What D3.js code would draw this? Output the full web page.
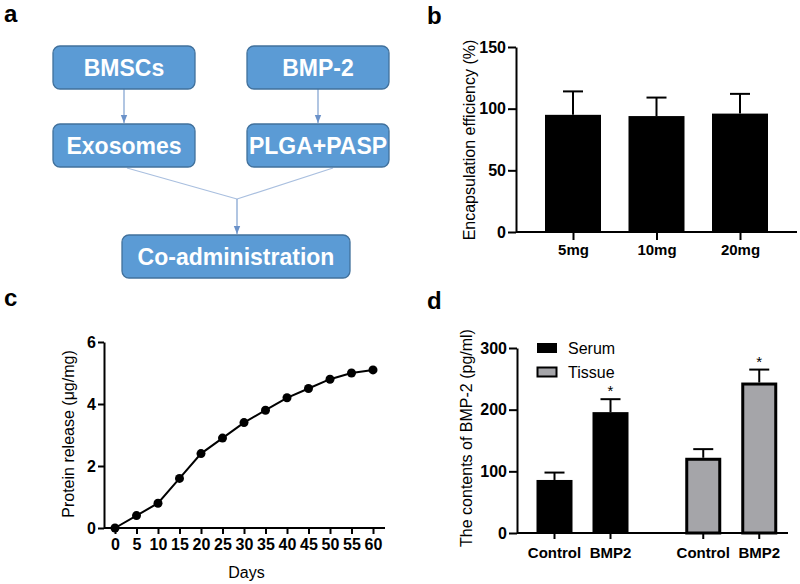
<!DOCTYPE html>
<html>
<head>
<meta charset="utf-8">
<script src="https://cdn.jsdelivr.net/npm/d3@7"></script>
<style>
  body { margin: 0; background: #fff; }
  svg { font-family: "Liberation Sans", Arial, sans-serif; display: block; }
</style>
</head>
<body>
<svg id="fig" width="800" height="584"></svg>
<script>
// Panel a - flow chart labels
const flowTop = ["BMSCs", "BMP-2"];
const flowMid = ["Exosomes", "PLGA+PASP"];
const flowEnd = "Co-administration";

// Panel b - encapsulation efficiency
const encCats = ["5mg", "10mg", "20mg"];
const encMean = [95, 94, 96];
const encSD = [19, 15, 16];
const encTicks = [0, 50, 100, 150];

// Panel c - cumulative protein release
const releaseDays = [0, 5, 10, 15, 20, 25, 30, 35, 40, 45, 50, 55, 60];
const releaseVals = [0, 0.4, 0.8, 1.6, 2.4, 2.9, 3.4, 3.8, 4.2, 4.5, 4.8, 5.0, 5.1];
const releaseYTicks = [0, 2, 4, 6];

// Panel d - BMP-2 contents
const bmpGroups = ["Serum", "Tissue"];
const bmpCats = ["Control", "BMP2"];
const bmpSerum = [86, 196];
const bmpSerumSD = [12, 21];
const bmpTissue = [122, 244];
const bmpTissueSD = [14, 21];
const bmpSig = [false, true];
const bmpTicks = [0, 100, 200, 300];

const svg = d3.select("#fig");
const black = "#000";
const intFmt = d3.format("d");

// panel letters
const letters = [["a", 4, 22], ["b", 427, 24], ["c", 4, 306], ["d", 427, 309]];
svg.selectAll("text.letter")
  .data(letters)
  .enter()
  .append("text")
  .attr("class", "letter")
  .attr("x", (d) => d[1])
  .attr("y", (d) => d[2])
  .attr("font-size", "24px")
  .attr("font-weight", "bold")
  .attr("fill", black)
  .text((d) => d[0]);

// ---------- panel a ----------
function drawFlow() {
  const g = svg.append("g");
  const lineCol = "#7d9fcf";

  const defs = svg.append("defs");
  defs.append("marker")
    .attr("id", "arr")
    .attr("viewBox", "0 0 10 10")
    .attr("refX", 10)
    .attr("refY", 5)
    .attr("markerWidth", 7)
    .attr("markerHeight", 7)
    .attr("orient", "auto")
    .append("path")
    .attr("d", "M0,1 L10,5 L0,9 Z")
    .attr("fill", "#6b92c9");

  const colX = d3.scalePoint().domain([0, 1]).range([124, 318]);
  const boxW = 142, boxH = 43;

  const boxes = [];
  flowTop.forEach((t, i) => boxes.push({ t, cx: colX(i), y: 46, w: boxW }));
  flowMid.forEach((t, i) => boxes.push({ t, cx: colX(i), y: 124, w: boxW }));
  boxes.push({ t: flowEnd, cx: 236, y: 235, w: 228 });

  // connectors
  flowTop.forEach((t, i) => {
    g.append("line")
      .attr("x1", colX(i)).attr("y1", 89)
      .attr("x2", colX(i)).attr("y2", 123)
      .attr("stroke", lineCol).attr("stroke-width", 1.2)
      .attr("marker-end", "url(#arr)");
  });
  const joinX = 237, joinY = 199;
  [127, 333].forEach((x) => {
    g.append("line")
      .attr("x1", x).attr("y1", 168)
      .attr("x2", joinX).attr("y2", joinY)
      .attr("stroke", "#a9bfdf").attr("stroke-width", 1.2);
  });
  g.append("line")
    .attr("x1", joinX).attr("y1", joinY)
    .attr("x2", joinX).attr("y2", 234)
    .attr("stroke", lineCol).attr("stroke-width", 1.2)
    .attr("marker-end", "url(#arr)");

  const bx = g.selectAll("g.box")
    .data(boxes)
    .enter()
    .append("g")
    .attr("class", "box");
  bx.append("rect")
    .attr("x", (d) => d.cx - d.w / 2)
    .attr("y", (d) => d.y)
    .attr("width", (d) => d.w)
    .attr("height", boxH)
    .attr("rx", 7)
    .attr("fill", "#5b9bd5")
    .attr("stroke", "#41719c")
    .attr("stroke-width", 1.3);
  bx.append("text")
    .attr("x", (d) => d.cx)
    .attr("y", (d) => d.y + boxH / 2 + 8)
    .attr("text-anchor", "middle")
    .attr("fill", "#fff")
    .attr("font-size", "23px")
    .attr("font-weight", "bold")
    .text((d) => d.t);
}

// shared axis styling
function styleAxis(sel, fs) {
  sel.selectAll("path, line").attr("stroke", black).attr("stroke-width", 2);
  sel.selectAll("text")
    .attr("fill", black)
    .attr("font-size", fs)
    .attr("font-weight", "bold")
    .attr("font-family", "Liberation Sans, Arial, sans-serif");
}

function yLabel(text, x, y) {
  svg.append("text")
    .attr("transform", `translate(${x},${y}) rotate(-90)`)
    .attr("text-anchor", "middle")
    .attr("font-size", "16px")
    .attr("fill", black)
    .text(text);
}

// ---------- panel b ----------
function drawEncapsulation() {
  const y = d3.scaleLinear().domain([0, 150]).range([232, 47]);
  const x = d3.scalePoint().domain(encCats).range([531.25, 781.75]).padding(0.5);
  const axisLeft = 516, axisRight = 797, bw = 56;

  const g = svg.append("g");
  g.selectAll("rect")
    .data(encCats)
    .enter()
    .append("rect")
    .attr("x", (d) => x(d) - bw / 2)
    .attr("y", (d, i) => y(encMean[i]))
    .attr("width", bw)
    .attr("height", (d, i) => y(0) - y(encMean[i]))
    .attr("fill", black);

  // error bars (upper only)
  encCats.forEach((c, i) => {
    const top = y(encMean[i] + encSD[i]);
    g.append("line")
      .attr("x1", x(c)).attr("x2", x(c))
      .attr("y1", y(encMean[i])).attr("y2", top)
      .attr("stroke", black).attr("stroke-width", 2);
    g.append("line")
      .attr("x1", x(c) - 10).attr("x2", x(c) + 10)
      .attr("y1", top).attr("y2", top)
      .attr("stroke", black).attr("stroke-width", 2);
  });

  const ya = svg.append("g")
    .attr("transform", `translate(${axisLeft},0)`)
    .call(d3.axisLeft(y).tickValues(encTicks).tickFormat(intFmt)
      .tickSize(8).tickPadding(2).tickSizeOuter(0));
  styleAxis(ya, "16px");

  const xa = svg.append("g")
    .attr("transform", `translate(0,${y(0)})`)
    .call(d3.axisBottom(x).tickSize(8).tickPadding(4).tickSizeOuter(0));
  xa.select(".domain").attr("d", `M${axisLeft},0H${axisRight}`);
  styleAxis(xa, "15px");

  yLabel("Encapsulation efficiency (%)", 475, 140);
}

// ---------- panel c ----------
function drawRelease() {
  const x = d3.scaleLinear().domain([0, 60]).range([115, 373]);
  const y = d3.scaleLinear().domain([0, 6]).range([528, 342]);
  const axisLeft = 104, axisRight = 385;

  const ya = svg.append("g")
    .attr("transform", `translate(${axisLeft},0)`)
    .call(d3.axisLeft(y).tickValues(releaseYTicks).tickFormat(intFmt)
      .tickSize(6).tickPadding(2).tickSizeOuter(0));
  styleAxis(ya, "16px");

  const xa = svg.append("g")
    .attr("transform", `translate(0,${y(0)})`)
    .call(d3.axisBottom(x).tickValues(releaseDays).tickFormat(intFmt)
      .tickSize(6).tickPadding(5).tickSizeOuter(0));
  xa.select(".domain").attr("d", `M${axisLeft},0H${axisRight}`);
  styleAxis(xa, "16px");

  const pts = releaseDays.map((d, i) => [d, releaseVals[i]]);
  svg.append("path")
    .datum(pts)
    .attr("fill", "none")
    .attr("stroke", black)
    .attr("stroke-width", 2)
    .attr("d", d3.line().x((d) => x(d[0])).y((d) => y(d[1])));
  svg.selectAll("circle.pt")
    .data(pts)
    .enter()
    .append("circle")
    .attr("class", "pt")
    .attr("cx", (d) => x(d[0]))
    .attr("cy", (d) => y(d[1]))
    .attr("r", 4.5)
    .attr("fill", black);

  yLabel("Protein release (\u03bcg/mg)", 74, 434);

  svg.append("text")
    .attr("x", (axisLeft + axisRight) / 2 + 2)
    .attr("y", 578)
    .attr("text-anchor", "middle")
    .attr("font-size", "16px")
    .attr("fill", black)
    .text("Days");
}

// ---------- panel d ----------
function drawBmp() {
  const y = d3.scaleLinear().domain([0, 300]).range([533, 348]);
  const gx = d3.scalePoint().domain(bmpGroups).range([582.5, 731.25]);
  const ix = d3.scalePoint().domain(bmpCats).range([-28, 28]);
  const axisLeft = 517, axisRight = 788, bw = 36;
  const gray = "#a5a5a9";

  const series = [
    { key: "Serum", vals: bmpSerum, sd: bmpSerumSD, fill: black },
    { key: "Tissue", vals: bmpTissue, sd: bmpTissueSD, fill: gray },
  ];

  const flat = [];
  series.forEach((s) => bmpCats.forEach((c, i) => {
    flat.push({ g: s.key, c, v: s.vals[i], sd: s.sd[i], fill: s.fill, sig: bmpSig[i], cx: gx(s.key) + ix(c) });
  }));

  const g = svg.append("g");
  // error bars drawn first so the bar covers the lower whisker
  flat.forEach((d) => {
    const top = y(d.v + d.sd);
    g.append("line")
      .attr("x1", d.cx).attr("x2", d.cx)
      .attr("y1", y(d.v)).attr("y2", top)
      .attr("stroke", black).attr("stroke-width", 2);
    g.append("line")
      .attr("x1", d.cx - 10).attr("x2", d.cx + 10)
      .attr("y1", top).attr("y2", top)
      .attr("stroke", black).attr("stroke-width", 2);
    if (d.sig) {
      g.append("text")
        .attr("x", d.cx)
        .attr("y", top - 3)
        .attr("text-anchor", "middle")
        .attr("font-size", "15px")
        .attr("fill", black)
        .text("*");
    }
  });

  g.selectAll("rect")
    .data(flat)
    .enter()
    .append("rect")
    .attr("x", (d) => d.cx - bw / 2 + (d.g === "Tissue" ? 1.5 : 0))
    .attr("y", (d) => y(d.v) + (d.g === "Tissue" ? 1.5 : 0))
    .attr("width", (d) => (d.g === "Tissue" ? bw - 3 : bw))
    .attr("height", (d) => y(0) - y(d.v) - (d.g === "Tissue" ? 1.5 : 0))
    .attr("fill", (d) => d.fill)
    .attr("stroke", (d) => (d.g === "Tissue" ? black : "none"))
    .attr("stroke-width", 3);

  const ya = svg.append("g")
    .attr("transform", `translate(${axisLeft},0)`)
    .call(d3.axisLeft(y).tickValues(bmpTicks).tickFormat(intFmt)
      .tickSize(8).tickPadding(2).tickSizeOuter(0));
  styleAxis(ya, "16px");

  // x axis: one tick per bar, labelled by category
  const xa = svg.append("g").attr("transform", `translate(0,${y(0)})`);
  xa.append("line")
    .attr("x1", axisLeft).attr("x2", axisRight)
    .attr("stroke", black).attr("stroke-width", 2);
  flat.forEach((d) => {
    xa.append("line")
      .attr("x1", d.cx).attr("x2", d.cx)
      .attr("y1", 0).attr("y2", 6)
      .attr("stroke", black).attr("stroke-width", 2);
    xa.append("text")
      .attr("x", d.cx)
      .attr("y", 25)
      .attr("text-anchor", "middle")
      .attr("font-size", "15px")
      .attr("font-weight", "bold")
      .attr("fill", black)
      .text(d.c);
  });

  // legend
  const lg = svg.append("g").attr("transform", "translate(537,343)");
  series.forEach((s, i) => {
    lg.append("rect")
      .attr("x", 0.5)
      .attr("y", i * 24 + 0.5)
      .attr("width", 19)
      .attr("height", 9)
      .attr("fill", s.fill)
      .attr("stroke", black)
      .attr("stroke-width", s.key === "Tissue" ? 2 : 1);
    lg.append("text")
      .attr("x", 31)
      .attr("y", i * 24 + 11)
      .attr("font-size", "16px")
      .attr("fill", black)
      .text(s.key);
  });

  yLabel("The contents of BMP-2 (pg/ml)", 472, 438);
}

drawFlow();
drawEncapsulation();
drawRelease();
drawBmp();
</script>
</body>
</html>
